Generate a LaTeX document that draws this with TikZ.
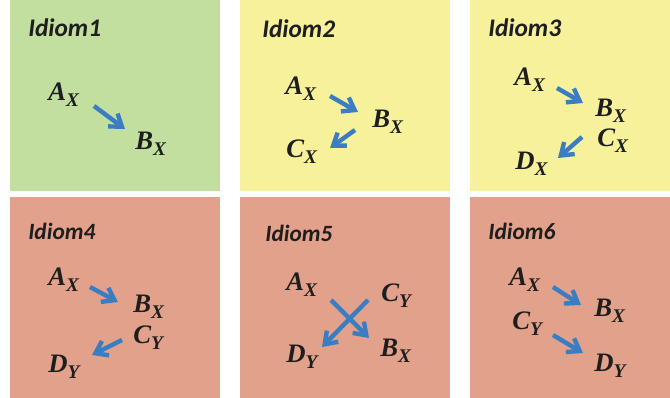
\documentclass[tikz,border=0pt]{standalone}
\usepackage{fontspec}
\setmainfont{Liberation Serif}
\newfontfamily\titlefont{Carlito}
\usetikzlibrary{arrows.meta}
\definecolor{pgreen}{RGB}{195,223,159}
\definecolor{pyellow}{RGB}{248,241,155}
\definecolor{psalmon}{RGB}{226,161,138}
\definecolor{arrblue}{RGB}{58,125,195}
\definecolor{ink}{RGB}{30,30,30}
\newcommand{\lbl}[2]{{\fontsize{20}{20}\selectfont\bfseries\itshape #1}\raisebox{-4pt}{\fontsize{14.5}{14.5}\selectfont\bfseries\itshape #2}}
\tikzset{
  lab/.style={anchor=base west, inner sep=0pt, text=ink},
  ttl/.style={anchor=base west, inner sep=0pt, text=ink, font=\titlefont\bfseries\itshape\fontsize{19}{19}\selectfont},
  ttlb/.style={ttl, font=\titlefont\bfseries\itshape\fontsize{17.5}{17.5}\selectfont},
  arr/.style={draw=arrblue, line width=3.3pt, -{Straight Barb[length=8.5pt,width=12pt]}}
}
\begin{document}
\begin{tikzpicture}[x=0.75pt,y=-0.75pt]
\useasboundingbox (0,0) rectangle (670,398);
% panels
\fill[pgreen]  (10,0) rectangle (220,191);
\fill[pyellow] (240,0) rectangle (450,191);
\fill[pyellow] (470,0) rectangle (670,191);
\fill[psalmon] (10,197) rectangle (220,398);
\fill[psalmon] (240,197) rectangle (450,398);
\fill[psalmon] (470,197) rectangle (670,398);
% titles
\node[ttl] (t1) at (28,37) {Idiom1};
\node[ttl] (t2) at (262,38) {Idiom2};
\node[ttl] (t3) at (488,37) {Idiom3};
\node[ttlb] (t4) at (28,240) {Idiom4};
\node[ttlb] (t5) at (265,242) {Idiom5};
\node[ttlb] (t6) at (488,240) {Idiom6};
% Idiom1
\node[lab] (A1) at (48,101) {\lbl{A}{X}};
\node[lab] (B1) at (135,150) {\lbl{B}{X}};
\draw[arr] ([shift={(46,5)}]A1.base west) -- ([shift={(-10,-21)}]B1.base west);
% Idiom2
\node[lab] (A2) at (285,95) {\lbl{A}{X}};
\node[lab] (B2) at (372,128) {\lbl{B}{X}};
\node[lab] (C2) at (286,158) {\lbl{C}{X}};
\draw[arr] ([shift={(45,1)}]A2.base west) -- ([shift={(-14,-16)}]B2.base west);
\draw[arr] ([shift={(-17,2)}]B2.base west) -- ([shift={(44,-10)}]C2.base west);
% Idiom3
\node[lab] (A3) at (514,86) {\lbl{A}{X}};
\node[lab] (B3) at (595,117) {\lbl{B}{X}};
\node[lab] (C3) at (597,147) {\lbl{C}{X}};
\node[lab] (D3) at (515,170) {\lbl{D}{X}};
\draw[arr] ([shift={(43,2)}]A3.base west) -- ([shift={(-12,-14)}]B3.base west);
\draw[arr] ([shift={(-15,-10)}]C3.base west) -- ([shift={(43,-12)}]D3.base west);
% Idiom4
\node[lab] (A4) at (48,286) {\lbl{A}{X}};
\node[lab] (B4) at (133,313) {\lbl{B}{X}};
\node[lab] (C4) at (133,344) {\lbl{C}{Y}};
\node[lab] (D4) at (48,373) {\lbl{D}{Y}};
\draw[arr] ([shift={(42,1)}]A4.base west) -- ([shift={(-15,-11)}]B4.base west);
\draw[arr] ([shift={(-11,-4)}]C4.base west) -- ([shift={(44,-18)}]D4.base west);
% Idiom5
\node[lab] (A5) at (286,291) {\lbl{A}{X}};
\node[lab] (C5) at (381,302) {\lbl{C}{Y}};
\node[lab] (B5) at (380,357) {\lbl{B}{X}};
\node[lab] (D5) at (286,363) {\lbl{D}{Y}};
\draw[arr] ([shift={(45,9)}]A5.base west) -- ([shift={(-11,-19)}]B5.base west);
\draw[arr] ([shift={(-13,-2)}]C5.base west) -- ([shift={(36,-16)}]D5.base west);
% Idiom6
\node[lab] (A6) at (509,286) {\lbl{A}{X}};
\node[lab] (B6) at (594,317) {\lbl{B}{X}};
\node[lab] (C6) at (512,330) {\lbl{C}{Y}};
\node[lab] (D6) at (594,372) {\lbl{D}{Y}};
\draw[arr] ([shift={(44,1)}]A6.base west) -- ([shift={(-13,-12)}]B6.base west);
\draw[arr] ([shift={(41,5)}]C6.base west) -- ([shift={(-11,-19)}]D6.base west);
\end{tikzpicture}
\end{document}
